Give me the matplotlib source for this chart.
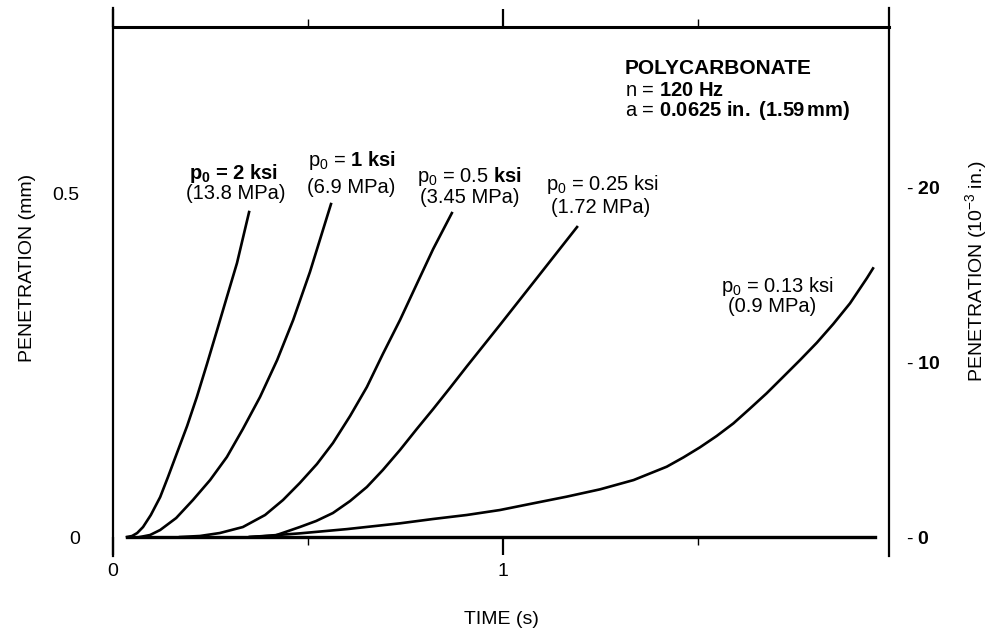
import matplotlib.pyplot as plt

plt.rcParams['font.family'] = ['Liberation Sans', 'DejaVu Sans']
plt.rcParams['mathtext.fontset'] = 'custom'
plt.rcParams['mathtext.rm'] = 'Liberation Sans'
plt.rcParams['mathtext.it'] = 'Liberation Sans'
plt.rcParams['mathtext.bf'] = 'Liberation Sans:bold'

# Penetration (mm) vs time (s)
t_2ksi = [0.036, 0.049, 0.062, 0.077, 0.097, 0.121, 0.141, 0.164, 0.190, 0.215,
          0.241, 0.267, 0.292, 0.318, 0.349]
p_2ksi = [0.000, 0.0015, 0.0058, 0.0145, 0.032, 0.0581, 0.0872, 0.1221, 0.1613, 0.2035,
          0.2515, 0.3009, 0.3488, 0.3983, 0.4724]

t_1ksi = [0.069, 0.095, 0.121, 0.162, 0.205, 0.249, 0.292, 0.333, 0.377, 0.421,
          0.462, 0.505, 0.559]
p_1ksi = [0.000, 0.0029, 0.0102, 0.0276, 0.0538, 0.0828, 0.1163, 0.157, 0.2035, 0.2573,
          0.3154, 0.3852, 0.484]

t_05ksi = [0.172, 0.223, 0.274, 0.333, 0.390, 0.436, 0.479, 0.523, 0.564, 0.608,
           0.651, 0.692, 0.736, 0.779, 0.821, 0.869]
p_05ksi = [0.000, 0.0015, 0.0058, 0.0145, 0.032, 0.0538, 0.0785, 0.1061, 0.1366, 0.1759,
           0.218, 0.266, 0.3154, 0.3677, 0.4186, 0.4709]

t_025ksi = [0.351, 0.415, 0.479, 0.521, 0.564, 0.608, 0.651, 0.692, 0.736, 0.779,
            0.821, 0.864, 0.908, 0.992, 1.077, 1.190]
p_025ksi = [0.000, 0.002, 0.0145, 0.0233, 0.0349, 0.0523, 0.0727, 0.0974, 0.1265, 0.157,
            0.186, 0.2166, 0.2485, 0.3081, 0.3692, 0.4506]

t_013ksi = [0.351, 0.400, 0.479, 0.600, 0.736, 0.821, 0.907, 0.992, 1.078, 1.163,
            1.249, 1.335, 1.420, 1.463, 1.505, 1.548, 1.591, 1.633, 1.676, 1.719,
            1.762, 1.805, 1.847, 1.890, 1.933, 1.949]
p_013ksi = [0.000, 0.002, 0.0053, 0.0115, 0.0199, 0.0262, 0.032, 0.0392, 0.049, 0.0586,
            0.0693, 0.0828, 0.1022, 0.1158, 0.1303, 0.1468, 0.1652, 0.1865, 0.2088, 0.233,
            0.2573, 0.2825, 0.3096, 0.3397, 0.376, 0.3905]

t_base = [0.035, 1.955]
p_base = [0.0, 0.0]

curves = [(t_2ksi, p_2ksi), (t_1ksi, p_1ksi), (t_05ksi, p_05ksi),
          (t_025ksi, p_025ksi), (t_013ksi, p_013ksi)]

MM_PER_MIL = 0.0254

fig = plt.figure(figsize=(9.9, 6.32), dpi=100)
ax = fig.add_axes([113 / 990, 1 - 556 / 632, 776 / 990, 548 / 632])

for t, p in curves:
    ax.plot(t, p, color='black', lw=1.9, solid_joinstyle='round')
ax.plot(t_base, p_base, color='black', lw=2.4)

ax.set_xlim(0, 1.99)
ax.set_ylim(-0.0276, 0.769)

ax.spines['bottom'].set_position(('data', 0))
ax.spines['bottom'].set_visible(False)
ax.spines['top'].set_position(('data', 0.741))
ax.spines['top'].set_linewidth(2.2)
for s in ['left', 'right']:
    ax.spines[s].set_linewidth(1.6)

ax.set_xticks([0, 1])
ax.set_xticklabels(['0', '1'])
ax.set_xticks([0.5, 1.5], minor=True)
ax.tick_params(axis='x', which='major', direction='out', length=13, width=1.6,
               top=True, bottom=True, labelsize=14, pad=6)
ax.tick_params(axis='x', which='minor', direction='out', length=6, width=1.0,
               top=True, bottom=True)

ax.set_yticks([0, 0.5])
ax.set_yticklabels(['0', '0.5'])
ax.tick_params(axis='y', length=0, labelsize=14, pad=24)

ax.set_xlabel('TIME (s)', fontsize=14)
ax.xaxis.set_label_coords(0.501, -0.100)
ax.set_ylabel('PENETRATION (mm)', fontsize=14)
ax.yaxis.set_label_coords(-0.099, 0.526)

# right axis in 10^-3 in.
ax2 = ax.twinx()
ax2.set_ylim(ax.get_ylim()[0] / MM_PER_MIL, ax.get_ylim()[1] / MM_PER_MIL)
ax2.set_yticks([0, 10, 20])
ax2.set_yticklabels([r'- $\mathbf{0}$', r'- $\mathbf{10}$', r'- $\mathbf{20}$'])
ax2.tick_params(axis='y', length=0, labelsize=14, pad=12)
for s in ax2.spines.values():
    s.set_visible(False)
ax2.set_ylabel(r'PENETRATION (10$^{-3}$ in.)', fontsize=14)
ax2.yaxis.set_label_coords(1.096, 0.52)

fs = 14.5
labels = [
    (0.308, 0.520, r'$\mathbf{p_0}$ = 2 ksi', 'bold', 0.315, 0.4915, '(13.8 MPa)'),
    (0.613, 0.540, r'p$_0$ = $\mathbf{1\ ksi}$', 'normal', 0.610, 0.4995, '(6.9 MPa)'),
    (0.915, 0.516, r'p$_0$ = 0.5 $\mathbf{ksi}$', 'normal', 0.915, 0.486, '(3.45 MPa)'),
    (1.256, 0.504, r'p$_0$ = 0.25 ksi', 'normal', 1.251, 0.471, '(1.72 MPa)'),
    (1.703, 0.356, r'p$_0$ = 0.13 ksi', 'normal', 1.690, 0.327, '(0.9 MPa)'),
]
for x1, y1, s1, w1, x2, y2, s2 in labels:
    ax.text(x1, y1, s1, ha='center', va='baseline', fontsize=fs, fontweight=w1)
    ax.text(x2, y2, s2, ha='center', va='baseline', fontsize=fs)

ax.text(1.313, 0.673, 'POLYCARBONATE', fontsize=15, fontweight='bold', va='baseline')
ax.text(1.313, 0.641, r'n = $\mathbf{120\ Hz}$', fontsize=14.5, va='baseline')
ax.text(1.313, 0.612, r'a = $\mathbf{0.0625\ in.\ (1.59\,mm)}$', fontsize=14.5, va='baseline')

fig.savefig('out.png', dpi=100)
